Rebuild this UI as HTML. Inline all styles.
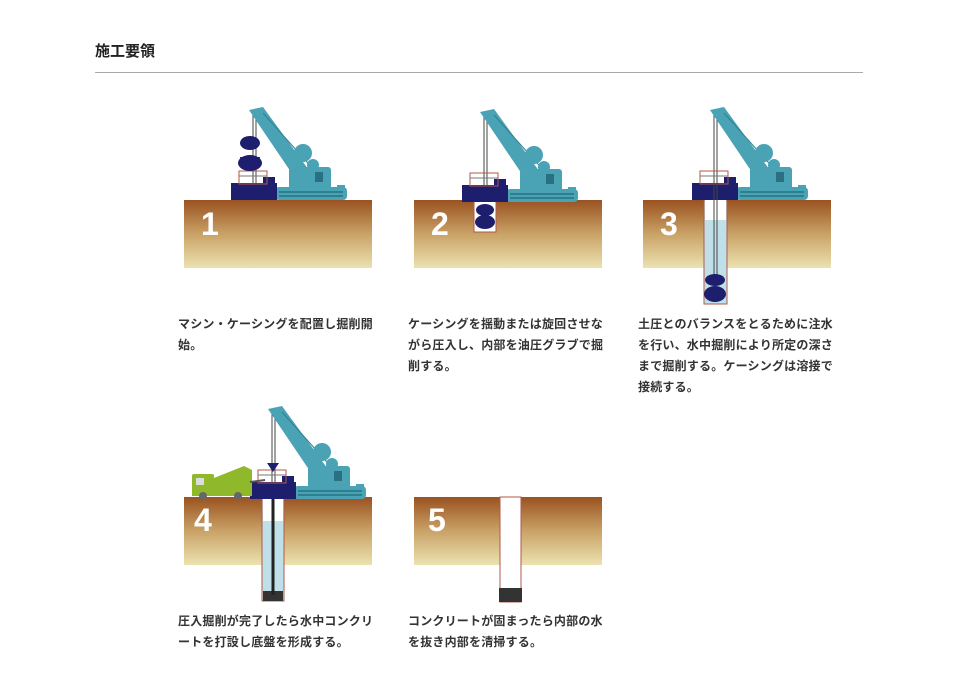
<!DOCTYPE html>
<html><head><meta charset="utf-8">
<style>
body{margin:0;background:#fff;width:968px;height:684px;overflow:hidden;position:relative;font-family:"Liberation Sans","Noto Sans CJK JP",sans-serif;}
h1{position:absolute;left:95px;top:40px;margin:0;font-size:15px;font-weight:bold;color:#222;}
.rule{position:absolute;left:95px;top:72px;width:768px;height:1px;background:#aaa;}
.cap{position:absolute;width:196px;font-size:12px;line-height:21px;color:#333;font-weight:bold;letter-spacing:0.2px;}
svg{position:absolute;left:0;top:0;}
.n{font-family:"Liberation Sans Narrow","Liberation Sans",sans-serif;font-size:32px;font-weight:bold;fill:#fff;}
</style></head><body>
<h1>施工要領</h1>
<div class="rule"></div>
<svg width="968" height="684" viewBox="0 0 968 684">
<defs>
<linearGradient id="g" x1="0" y1="0" x2="0" y2="1">
<stop offset="0" stop-color="#9a5220"/><stop offset="0.5" stop-color="#c9a267"/><stop offset="1" stop-color="#ebe2b0"/>
</linearGradient>
<g id="crane">
<line x1="0" y1="0" x2="0" y2="70" stroke="#444" stroke-width="1"/>
<line x1="3" y1="2" x2="3" y2="70" stroke="#444" stroke-width="1"/>
<polygon points="-4,-3 10,-6 58,60 44,68" fill="#4aa3b5"/>
<line x1="10" y1="0" x2="62" y2="58" stroke="#2d7f90" stroke-width="1"/>
<circle cx="50" cy="40" r="9" fill="#4aa3b5"/>
<circle cx="60" cy="52" r="6" fill="#4aa3b5"/>
<rect x="36" y="54" width="42" height="24" rx="3" fill="#4aa3b5"/>
<rect x="62" y="59" width="8" height="10" fill="#2a7080"/>
<rect x="22" y="74" width="72" height="13" rx="4" fill="#4aa3b5"/>
<rect x="26" y="78" width="64" height="2" fill="#2d7f90"/>
<rect x="26" y="82" width="64" height="2" fill="#2d7f90"/>
<rect x="84" y="72" width="8" height="6" fill="#4aa3b5"/>
<rect x="-22" y="70" width="46" height="17" fill="#1e1e6e"/>
<rect x="10" y="64" width="12" height="8" fill="#1e1e6e"/>
<rect x="-14" y="58" width="28" height="13" fill="none" stroke="#b05a4a" stroke-width="1"/>
<line x1="-14" y1="63" x2="14" y2="63" stroke="#777"/>
</g>
</defs>
<rect x="184" y="200" width="188" height="68" fill="url(#g)"/>
<use href="#crane" transform="translate(253,113)"/>
<g fill="#1e1e6e"><ellipse cx="250" cy="143" rx="10" ry="7"/><path d="M240,157 h20 a10,10 0 0 1 -20,0z"/><ellipse cx="250" cy="163" rx="12" ry="8"/></g>
<text x="201" y="235" class="n">1</text>
<rect x="414" y="200" width="188" height="68" fill="url(#g)"/>
<rect x="474" y="200" width="22" height="32" fill="#fff" stroke="#b05a4a"/>
<use href="#crane" transform="translate(484,115)"/>
<g fill="#1e1e6e"><ellipse cx="485" cy="210" rx="9" ry="6"/><ellipse cx="485" cy="222" rx="10" ry="7"/></g>
<text x="431" y="235" class="n">2</text>
<rect x="643" y="200" width="188" height="68" fill="url(#g)"/>
<rect x="704" y="200" width="23" height="104" fill="#bfe0e8" stroke="#b05a4a"/>
<rect x="705" y="200" width="21" height="20" fill="#fff"/>
<use href="#crane" transform="translate(714,113)"/>
<line x1="714" y1="180" x2="714" y2="280" stroke="#444"/>
<line x1="717" y1="180" x2="717" y2="280" stroke="#444"/>
<g fill="#1e1e6e"><ellipse cx="715" cy="280" rx="10" ry="6"/><ellipse cx="715" cy="294" rx="11" ry="8"/></g>
<text x="660" y="235" class="n">3</text>
<rect x="184" y="497" width="188" height="68" fill="url(#g)"/>
<rect x="262" y="497" width="22" height="104" fill="#bfe0e8" stroke="#b05a4a"/>
<rect x="263" y="497" width="20" height="24" fill="#fff"/>
<rect x="263" y="591" width="20" height="10" fill="#333"/>
<line x1="273" y1="490" x2="273" y2="595" stroke="#222" stroke-width="3"/>
<use href="#crane" transform="translate(272,412)"/>
<path d="M267,463 h12 l-6,9z" fill="#1e1e6e"/>
<g fill="#8fb82a"><rect x="192" y="474" width="22" height="20" rx="2"/><path d="M214,478 l30,-12 l8,4 v24 h-38z"/><rect x="192" y="488" width="60" height="8"/></g>
<rect x="196" y="478" width="8" height="7" fill="#ddd"/>
<circle cx="203" cy="496" r="4" fill="#666"/><circle cx="238" cy="496" r="4" fill="#666"/>
<line x1="250" y1="482" x2="265" y2="480" stroke="#555" stroke-width="2"/>
<text x="194" y="531" class="n">4</text>
<rect x="414" y="497" width="188" height="68" fill="url(#g)"/>
<rect x="500" y="497" width="21" height="105" fill="#fff" stroke="#b05a4a"/>
<rect x="499" y="588" width="23" height="14" fill="#333"/>
<text x="428" y="531" class="n">5</text>
</svg>
<div class="cap" style="left:178px;top:314px;">マシン・ケーシングを配置し掘削開始。</div>
<div class="cap" style="left:408px;top:314px;">ケーシングを揺動または旋回させながら圧入し、内部を油圧グラブで掘削する。</div>
<div class="cap" style="left:638px;top:314px;">土圧とのバランスをとるために注水を行い、水中掘削により所定の深さまで掘削する。ケーシングは溶接で接続する。</div>
<div class="cap" style="left:178px;top:611px;">圧入掘削が完了したら水中コンクリートを打設し底盤を形成する。</div>
<div class="cap" style="left:408px;top:611px;">コンクリートが固まったら内部の水を抜き内部を清掃する。</div>
</body></html>
